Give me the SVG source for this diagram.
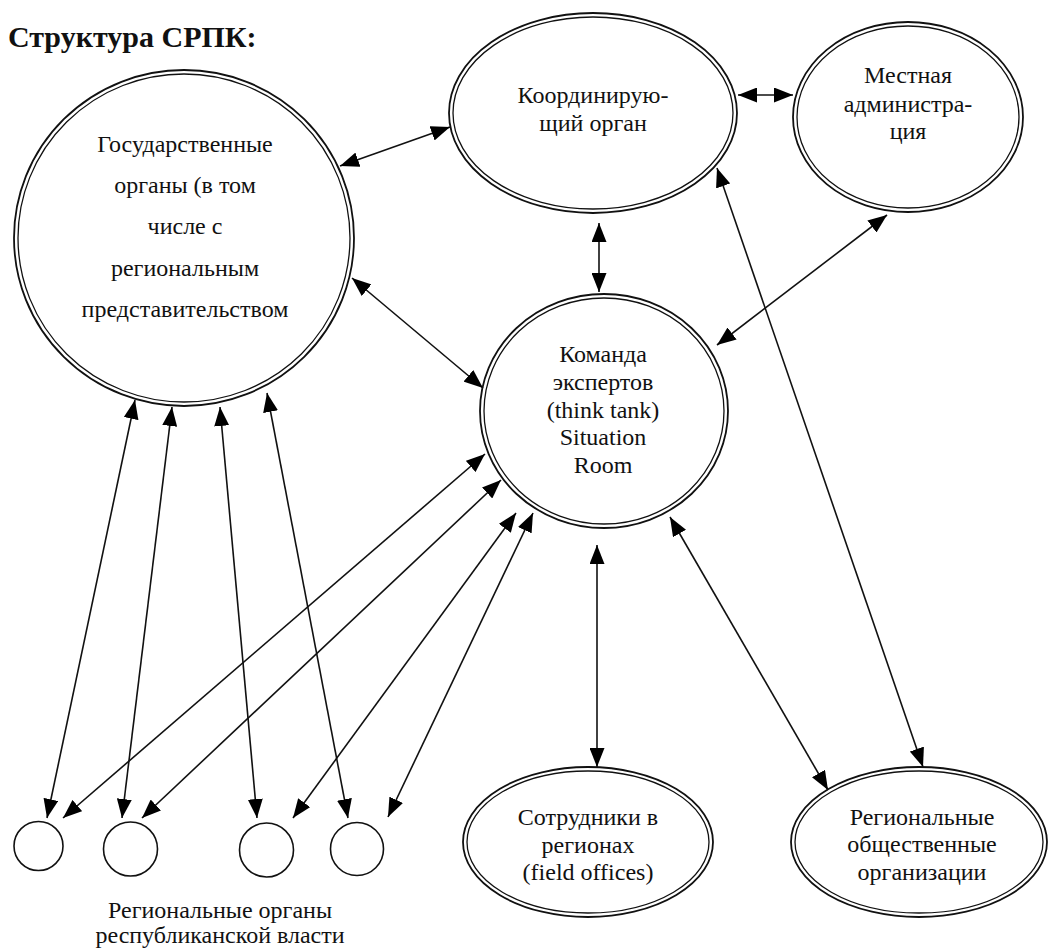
<svg xmlns="http://www.w3.org/2000/svg" width="1048" height="948" viewBox="0 0 1048 948">
<style>
.bg{fill:#fff}
.o{fill:none;stroke:#111;stroke-width:1.8}
.i{fill:none;stroke:#111;stroke-width:1.3}
.s{fill:none;stroke:#111;stroke-width:1.6}
.t{font-family:"Liberation Serif","Times New Roman",serif;font-size:24px;fill:#111;text-anchor:middle}
.h{font-family:"Liberation Serif","Times New Roman",serif;font-size:30px;font-weight:bold;fill:#111}
.c{stroke:#111;stroke-width:1.6;fill:none;marker-start:url(#ah);marker-end:url(#ah)}
</style>
<defs>
<marker id="ah" viewBox="0 0 19 15" refX="19" refY="7.5" markerWidth="19" markerHeight="15" markerUnits="userSpaceOnUse" orient="auto-start-reverse">
<path d="M0,0 L19,7.5 L0,15 z" fill="#000"/>
</marker>
</defs>
<rect class="bg" x="0" y="0" width="1048" height="948"/>
<text class="h" x="8" y="47">Структура СРПК:</text>

<g id="connectors">
<line class="c" x1="738" y1="95" x2="793" y2="95"/>
<line class="c" x1="450" y1="127" x2="340" y2="166"/>
<line class="c" x1="599" y1="223" x2="599" y2="292"/>
<line class="c" x1="352" y1="278" x2="483" y2="388"/>
<line class="c" x1="887" y1="215" x2="717" y2="345"/>
<line class="c" x1="717" y1="168" x2="923" y2="767"/>
<line class="c" x1="670" y1="517" x2="828" y2="790"/>
<line class="c" x1="597" y1="545" x2="597" y2="767"/>
<line class="c" x1="135" y1="400" x2="47" y2="818"/>
<line class="c" x1="172" y1="407" x2="122" y2="818"/>
<line class="c" x1="220" y1="407" x2="257" y2="818"/>
<line class="c" x1="267" y1="393" x2="348" y2="818"/>
<line class="c" x1="485" y1="454" x2="63" y2="818"/>
<line class="c" x1="501" y1="480" x2="142" y2="818"/>
<line class="c" x1="516" y1="513" x2="293" y2="818"/>
<line class="c" x1="533" y1="513" x2="388" y2="817"/>
</g>

<g id="gos">
<ellipse class="o" cx="184" cy="238" rx="170" ry="168"/>
<ellipse class="i" cx="184" cy="238" rx="166" ry="164"/>
<text class="t" x="185" y="152">Государственные</text>
<text class="t" x="185" y="193">органы (в том</text>
<text class="t" x="185" y="234">числе с</text>
<text class="t" x="185" y="276">региональным</text>
<text class="t" x="185" y="317">представительством</text>
</g>

<g id="coord">
<ellipse class="o" cx="593" cy="113" rx="144" ry="100"/>
<ellipse class="i" cx="593" cy="113" rx="140" ry="96"/>
<text class="t" x="593" y="103">Координирую-</text>
<text class="t" x="593" y="131">щий орган</text>
</g>

<g id="local">
<ellipse class="o" cx="908" cy="117" rx="115" ry="95"/>
<ellipse class="i" cx="908" cy="117" rx="111" ry="91"/>
<text class="t" x="908" y="83">Местная</text>
<text class="t" x="908" y="112">администра-</text>
<text class="t" x="908" y="139">ция</text>
</g>

<g id="command">
<ellipse class="o" cx="604" cy="411" rx="124" ry="117"/>
<ellipse class="i" cx="604" cy="411" rx="120" ry="113"/>
<text class="t" x="603" y="362">Команда</text>
<text class="t" x="603" y="390">экспертов</text>
<text class="t" x="603" y="418">(think tank)</text>
<text class="t" x="603" y="445">Situation</text>
<text class="t" x="603" y="473">Room</text>
</g>

<g id="field">
<ellipse class="o" cx="588" cy="842" rx="125" ry="75"/>
<ellipse class="i" cx="588" cy="842" rx="121" ry="71"/>
<text class="t" x="588" y="825">Сотрудники в</text>
<text class="t" x="588" y="853">регионах</text>
<text class="t" x="588" y="880">(field offices)</text>
</g>

<g id="public">
<ellipse class="o" cx="919" cy="842" rx="128" ry="75"/>
<ellipse class="i" cx="919" cy="842" rx="124" ry="71"/>
<text class="t" x="922" y="825">Региональные</text>
<text class="t" x="922" y="852">общественные</text>
<text class="t" x="922" y="880">организации</text>
</g>

<g id="regional">
<circle class="s" cx="38.5" cy="846" r="24.5"/>
<circle class="s" cx="130.5" cy="849" r="27"/>
<circle class="s" cx="266.5" cy="850" r="27"/>
<circle class="s" cx="357" cy="849" r="26.5"/>
<text class="t" x="220" y="918">Региональные органы</text>
<text class="t" x="220" y="943">республиканской власти</text>
</g>
</svg>
